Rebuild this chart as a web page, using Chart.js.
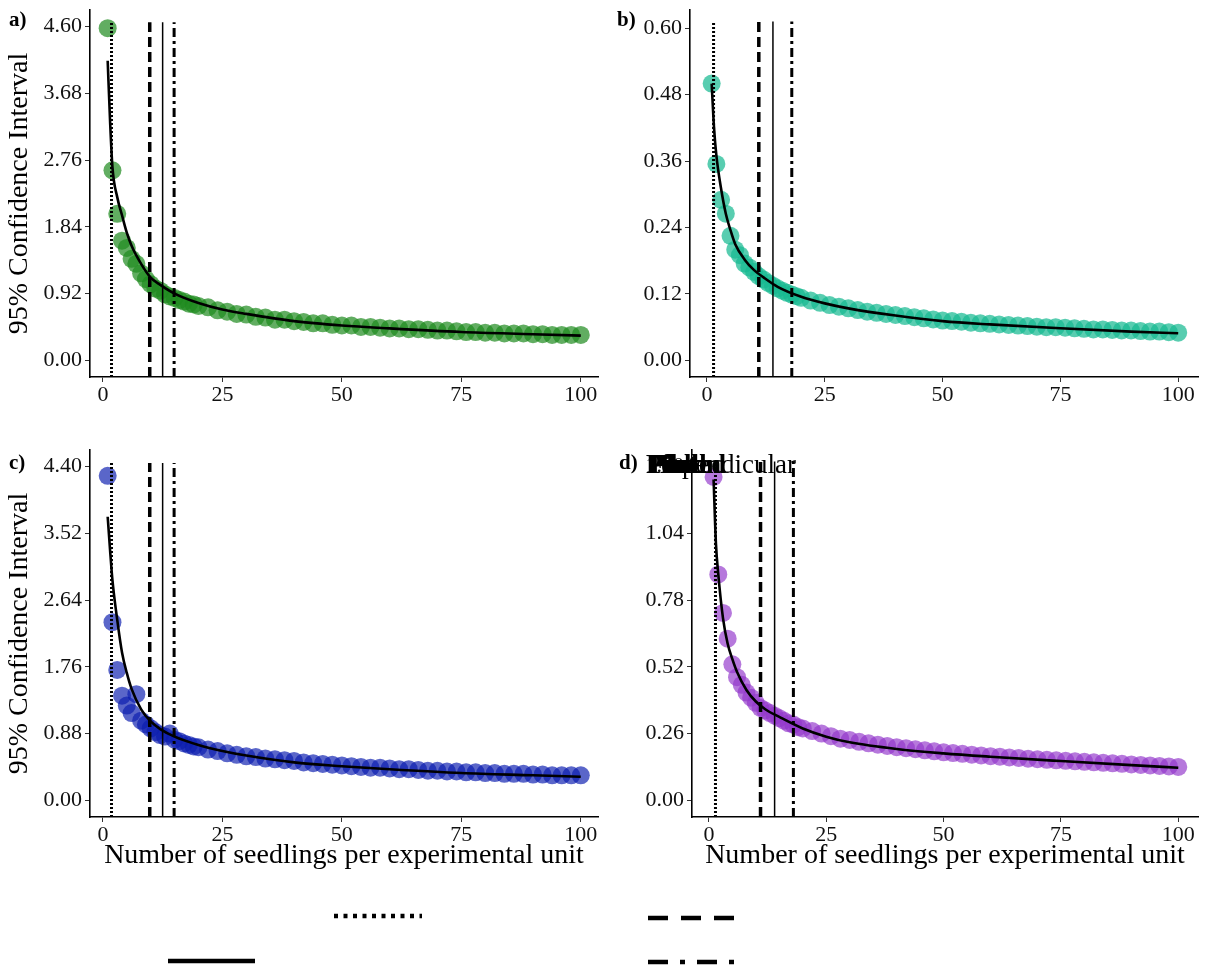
<!DOCTYPE html>
<html>
<head>
<meta charset="utf-8">
<script src="https://cdn.jsdelivr.net/npm/chart.js@4.4.1/dist/chart.umd.min.js"></script>
<style>
body { margin: 0; background: #fff; width: 1214px; height: 972px; position: relative; overflow: hidden; }
canvas { position: absolute; }
.tag { position: absolute; font: bold 21px "Liberation Serif", serif; color: #000; }
.lab { position: absolute; font: 27px "Liberation Serif", serif; color: #000; white-space: nowrap; line-height: 1; }
</style>
</head>
<body>
<canvas id="pa" width="607" height="430" style="left:0;top:0"></canvas>
<canvas id="pb" width="607" height="430" style="left:607px;top:0"></canvas>
<canvas id="pc" width="607" height="432" style="left:0;top:440px"></canvas>
<canvas id="pd" width="607" height="432" style="left:607px;top:440px"></canvas>
<canvas id="keys" width="1214" height="92" style="left:0;top:880px"></canvas>
<div class="tag" style="left:9px;top:7px">a)</div>
<div class="tag" style="left:617px;top:7px">b)</div>
<div class="tag" style="left:9px;top:450px">c)</div>
<div class="tag" style="left:619px;top:450px">d)</div>
<div class="lab" style="left:646px;top:451px">Perpendicular</div>
<div class="lab" style="left:646px;top:451px;font-weight:bold">Pilot</div>
<div class="lab" style="left:648px;top:451px;font-weight:bold">Field</div>
<div class="lab" style="left:650px;top:451px;font-weight:bold">Plot</div>
<div class="lab" style="left:660px;top:451px;font-weight:bold">Lab</div>
<div class="lab" style="left:676px;top:451px;font-weight:bold">mm</div>
<div class="lab" style="left:648px;top:451px;font-weight:bold">Pooled</div>
<script>
// seedlings per experimental unit
var seedlings = [1, 2, 3, 4, 5, 6, 7, 8, 9, 10, 11, 12, 13, 14, 15, 16, 17, 18, 19, 20,
  22, 24, 26, 28, 30, 32, 34, 36, 38, 40, 42, 44, 46, 48, 50, 52, 54, 56, 58, 60,
  62, 64, 66, 68, 70, 72, 74, 76, 78, 80, 82, 84, 86, 88, 90, 92, 94, 96, 98, 100];

// 95% CI widths read per panel
var ciA = [4.58, 2.62, 2.02, 1.65, 1.55, 1.40, 1.33, 1.20, 1.12, 1.05, 0.99, 0.96, 0.91, 0.88, 0.86, 0.83, 0.81, 0.78, 0.77, 0.75,
  0.73, 0.69, 0.67, 0.64, 0.63, 0.60, 0.59, 0.56, 0.56, 0.54,
  0.53, 0.51, 0.51, 0.49, 0.48, 0.48, 0.46, 0.46, 0.45, 0.44,
  0.44, 0.43, 0.43, 0.42, 0.41, 0.41, 0.40, 0.39, 0.39, 0.38,
  0.38, 0.37, 0.37, 0.37, 0.36, 0.36, 0.35, 0.35, 0.35, 0.35];
var ciB = [0.50, 0.355, 0.29, 0.265, 0.225, 0.20, 0.19, 0.175, 0.168, 0.16, 0.152, 0.146, 0.14, 0.135, 0.13, 0.126, 0.122, 0.119, 0.116, 0.113,
  0.108, 0.104, 0.100, 0.097, 0.094, 0.091, 0.088, 0.086, 0.084, 0.082,
  0.080, 0.078, 0.076, 0.074, 0.072, 0.071, 0.070, 0.068, 0.067, 0.066,
  0.065, 0.064, 0.063, 0.062, 0.061, 0.060, 0.060, 0.059, 0.058, 0.057,
  0.056, 0.056, 0.055, 0.054, 0.054, 0.053, 0.052, 0.052, 0.051, 0.050];
var ciC = [4.28, 2.35, 1.72, 1.38, 1.25, 1.15, 1.40, 1.05, 1.00, 0.95, 0.90, 0.86, 0.84, 0.88, 0.80, 0.78, 0.75, 0.73, 0.71, 0.70,
  0.67, 0.65, 0.62, 0.60, 0.58, 0.57, 0.55, 0.54, 0.53, 0.52,
  0.50, 0.49, 0.48, 0.47, 0.46, 0.45, 0.44, 0.43, 0.43, 0.42,
  0.41, 0.41, 0.40, 0.39, 0.39, 0.38, 0.38, 0.37, 0.37, 0.36,
  0.36, 0.35, 0.35, 0.35, 0.34, 0.34, 0.33, 0.33, 0.33, 0.33];
var ciD = [1.26, 0.88, 0.73, 0.63, 0.53, 0.48, 0.45, 0.42, 0.40, 0.38, 0.36, 0.35, 0.34, 0.33, 0.32, 0.31, 0.30, 0.295, 0.285, 0.28,
  0.27, 0.26, 0.25, 0.24, 0.235, 0.228, 0.222, 0.217, 0.212, 0.207,
  0.203, 0.199, 0.195, 0.191, 0.187, 0.184, 0.181, 0.178, 0.175, 0.172,
  0.170, 0.167, 0.165, 0.162, 0.160, 0.158, 0.156, 0.154, 0.152, 0.150,
  0.148, 0.146, 0.144, 0.142, 0.140, 0.138, 0.136, 0.134, 0.132, 0.130];

// fitted curve
var fitX = [1, 1.5, 2, 3, 4, 5, 6, 8, 10, 12, 15, 20, 25, 30, 40, 50, 60, 75, 90, 100];
var fitA = [4.13, 3.30, 2.66, 2.25, 2.00, 1.76, 1.58, 1.33, 1.14, 1.04, 0.92, 0.79, 0.70, 0.64, 0.54, 0.48, 0.44, 0.39, 0.36, 0.34];
var fitB = [0.50, 0.42, 0.37, 0.31, 0.265, 0.235, 0.21, 0.182, 0.163, 0.15, 0.133, 0.115, 0.103, 0.094, 0.081, 0.071, 0.065, 0.058, 0.052, 0.049];
var fitC = [3.74, 3.30, 2.90, 2.38, 1.95, 1.68, 1.47, 1.20, 1.04, 0.94, 0.84, 0.73, 0.65, 0.59, 0.50, 0.45, 0.41, 0.36, 0.33, 0.31];
var fitD = [1.25, 1.00, 0.88, 0.71, 0.61, 0.55, 0.50, 0.43, 0.385, 0.355, 0.325, 0.28, 0.248, 0.226, 0.20, 0.183, 0.17, 0.153, 0.137, 0.127];

// reference lines: dotted, dashed, solid, dot-dash
var refA = [1.8, 9.8, 12.5, 14.9];
var refB = [1.4, 11.0, 14.0, 18.0];
var refC = [1.8, 9.8, 12.5, 14.9];
var refD = [1.4, 11.0, 14.0, 18.0];
var refTop = [4.66, 0.612, 4.45, 1.32];

var xTicks = [0, 25, 50, 75, 100];
var yTicksA = [0.00, 0.92, 1.84, 2.76, 3.68, 4.60];
var yTicksB = [0.00, 0.12, 0.24, 0.36, 0.48, 0.60];
var yTicksC = [0.00, 0.88, 1.76, 2.64, 3.52, 4.40];
var yTicksD = [0.00, 0.26, 0.52, 0.78, 1.04, 1.30];

var serif = 'Liberation Serif';
var dashes = [[2, 2], [10, 5], [], [9, 4, 3, 4]];
var widths = [3, 3.5, 1.5, 3];

function panel(id, o) {
  var datasets = [];
  o.ref.forEach(function (v, i) {
    datasets.push({
      type: 'line',
      data: [{x: v, y: o.yMin}, {x: v, y: o.top}],
      borderColor: '#000', borderWidth: widths[i], borderDash: dashes[i],
      pointRadius: 0, order: 0
    });
  });
  datasets.push({
    type: 'line',
    data: fitX.map(function (x, i) { return {x: x, y: o.fit[i]}; }),
    borderColor: '#000', borderWidth: 2.6, pointRadius: 0,
    cubicInterpolationMode: 'monotone', order: 1
  });
  datasets.push({
    type: 'scatter',
    data: seedlings.map(function (x, i) { return {x: x, y: o.ci[i]}; }),
    backgroundColor: o.color, borderWidth: 0, pointRadius: 9, order: 2
  });

  return new Chart(document.getElementById(id), {
    type: 'scatter',
    data: {datasets: datasets},
    options: {
      responsive: false, animation: false, devicePixelRatio: 1,
      layout: {autoPadding: false, padding: {left: 0, top: o.padTop, right: o.padRight, bottom: 0}},
      plugins: {legend: {display: false}, tooltip: {enabled: false}},
      scales: {
        x: {
          type: 'linear', min: o.xMin, max: o.xMax,
          afterBuildTicks: function (ax) { ax.ticks = xTicks.map(function (v) { return {value: v}; }); },
          afterFit: function (ax) { ax.height = o.xH; },
          ticks: {font: {family: serif, size: 22}, color: '#111', padding: 0, maxRotation: 0,
            callback: function (v) { return String(v); }},
          grid: {display: true, drawOnChartArea: false, drawTicks: true, tickLength: 5, color: '#333'},
          border: {display: true, color: '#000', width: 1.6},
          title: {display: o.xTitle, text: 'Number of seedlings per experimental unit',
            font: {family: serif, size: 28}, color: '#000', padding: {top: 0, bottom: 0}}
        },
        y: {
          type: 'linear', min: o.yMin, max: o.yMax,
          afterBuildTicks: function (ax) { ax.ticks = o.yTicks.map(function (v) { return {value: v}; }); },
          afterFit: function (ax) { ax.width = o.yW; ax.paddingTop = 0; ax.paddingBottom = 0; },
          ticks: {font: {family: serif, size: 22}, color: '#111', padding: 3,
            callback: function (v) { return v.toFixed(2); }},
          grid: {display: true, drawOnChartArea: false, drawTicks: true, tickLength: 5, color: '#333'},
          border: {display: true, color: '#000', width: 1.6},
          title: {display: o.yTitle, text: '95% Confidence Interval',
            font: {family: serif, size: 28}, color: '#000', padding: {top: 3, bottom: 0}}
        }
      }
    }
  });
}

panel('pa', {ci: ciA, fit: fitA, ref: refA, top: refTop[0], color: 'rgba(30,138,30,0.7)',
  xMin: -2.7, xMax: 103.6, yMin: -0.23, yMax: 4.83, yTicks: yTicksA,
  padTop: 10, padRight: 9, yW: 90, xH: 53, yTitle: true, xTitle: false});
panel('pb', {ci: ciB, fit: fitB, ref: refB, top: refTop[1], color: 'rgba(24,186,146,0.72)',
  xMin: -3.6, xMax: 104.2, yMin: -0.03, yMax: 0.633, yTicks: yTicksB,
  padTop: 10, padRight: 16, yW: 83, xH: 53, yTitle: false, xTitle: false});
panel('pc', {ci: ciC, fit: fitC, ref: refC, top: refTop[2], color: 'rgba(12,30,176,0.68)',
  xMin: -2.7, xMax: 103.6, yMin: -0.22, yMax: 4.62, yTicks: yTicksC,
  padTop: 10, padRight: 9, yW: 90, xH: 55, yTitle: true, xTitle: true});
panel('pd', {ci: ciD, fit: fitD, ref: refD, top: refTop[3], color: 'rgba(148,56,204,0.68)',
  xMin: -3.6, xMax: 104.2, yMin: -0.065, yMax: 1.365, yTicks: yTicksD,
  padTop: 10, padRight: 16, yW: 85, xH: 55, yTitle: false, xTitle: true});

// legend keys without labels (labels ended up in panel d)
var kc = document.getElementById('keys').getContext('2d');
kc.strokeStyle = '#000';
kc.lineWidth = 4.5;
function key(x1, x2, y, dash) {
  kc.setLineDash(dash);
  kc.beginPath(); kc.moveTo(x1, y); kc.lineTo(x2, y); kc.stroke();
}
key(334, 422, 36, [4, 5.5]);
key(648, 734, 38, [20, 13]);
key(168, 255, 81, []);
key(648, 736, 82, [20, 12, 5, 12]);
</script>
</body>
</html>
